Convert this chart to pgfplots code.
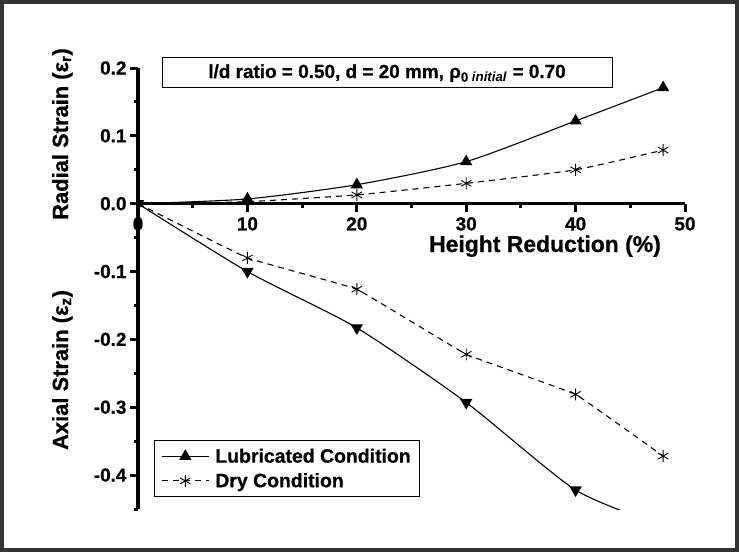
\documentclass[border=0pt]{standalone}
\usepackage{pgfplots}
\pgfplotsset{compat=1.18}
\usepackage{fontspec}
\setmainfont{Liberation Sans}[BoldFeatures={FakeBold=0.7}]

\begin{document}
\begin{tikzpicture}
\useasboundingbox (0bp,0bp) rectangle (739bp,-553bp);
% outer frame
\draw[line width=3.5bp, black!80] (2bp,-2bp) rectangle (737bp,-550bp);

\begin{axis}[
  at={(138bp,-509bp)}, anchor=south west,
  scale only axis, width=547bp, height=441bp,
  xmin=0, xmax=50, ymin=-0.45, ymax=0.2,
  axis x line=middle, axis y line=left,
  axis line style={line width=3.5bp, -},
  hide obscured x ticks=false, hide obscured y ticks=false,
  xtick={0,10,20,30,40,50}, xticklabels={0,10,20,30,40,50},
  minor xtick={5,15,25,35,45},
  ytick={-0.4,-0.3,-0.2,-0.1,0,0.1,0.2},
  yticklabels={-0.4,-0.3,-0.2,-0.1,0.0,0.1,0.2},
  minor ytick={-0.45,-0.35,-0.25,-0.15,-0.05,0.05,0.15},
  tick align=outside,
  major tick length=8bp, minor tick length=4.5bp,
  every tick/.style={line width=3bp, black},
  /pgf/number format/assume math mode=true,
  xticklabel style={font=\bfseries\fontsize{19}{19}\selectfont, yshift=-2bp},
  yticklabel style={font=\bfseries\fontsize{19}{19}\selectfont},
  clip marker paths=true,
  legend style={at={(axis description cs:0.029,0.027)}, anchor=south west,
    draw=black, line width=0.8bp, font=\bfseries\fontsize{19.5}{19.5}\selectfont,
    row sep=5bp, column sep=4bp, inner xsep=7bp, inner ysep=6bp},
  legend cell align=left,
  legend image code/.code={%
    \draw[mark repeat=2, mark phase=2] plot coordinates {(0bp,0bp) (23.5bp,0bp) (47bp,0bp)};},
]
% radial strain
\addplot[black, line width=1.1bp, smooth, tension=0.4, mark=triangle*, mark size=6bp, mark options={solid}]
  coordinates {(0,0) (10,0.007) (20,0.028) (30,0.062) (40,0.122) (48,0.171)};
\addplot[black, line width=1.1bp, smooth, tension=0.3, dash pattern=on 6bp off 5bp, mark=asterisk, mark size=6bp, mark options={solid, line width=0.9bp}]
  coordinates {(0,0) (10,0.003) (20,0.013) (30,0.030) (40,0.050) (48,0.079)};
% axial strain
\addplot[black, line width=1.1bp, smooth, tension=0.4, forget plot, mark=triangle*, mark size=6bp, mark options={solid, rotate=180}]
  coordinates {(0,0) (10,-0.100) (20,-0.183) (30,-0.293) (40,-0.422) (48,-0.475)};
\addplot[black, line width=1.1bp, smooth, tension=0.1, forget plot, dash pattern=on 6bp off 5bp, mark=asterisk, mark size=6bp, mark options={solid, line width=0.9bp}]
  coordinates {(0,0) (10,-0.080) (20,-0.126) (30,-0.222) (40,-0.281) (48,-0.372)};
\legend{Lubricated Condition, Dry Condition}
\end{axis}

% axis titles
\node[anchor=base, font=\bfseries\fontsize{23}{23}\selectfont] at (545bp,-252bp) {Height Reduction (\%)};
\node[anchor=base, rotate=90, font=\bfseries\fontsize{22}{22}\selectfont] at (68bp,-134bp) {Radial Strain (ε\textsubscript{r})};
\node[anchor=base, rotate=90, font=\bfseries\fontsize{22}{22}\selectfont] at (68bp,-370bp) {Axial Strain (ε\textsubscript{z})};

% parameter box
\draw[line width=0.8bp] (162bp,-57bp) rectangle (612bp,-87bp);
\node[anchor=base, font=\bfseries\fontsize{19}{19}\selectfont] at (387bp,-78bp)
  {l/d ratio = 0.50, d = 20 mm, ρ\textsubscript{0 \textit{initial}} = 0.70};
\end{tikzpicture}
\end{document}
